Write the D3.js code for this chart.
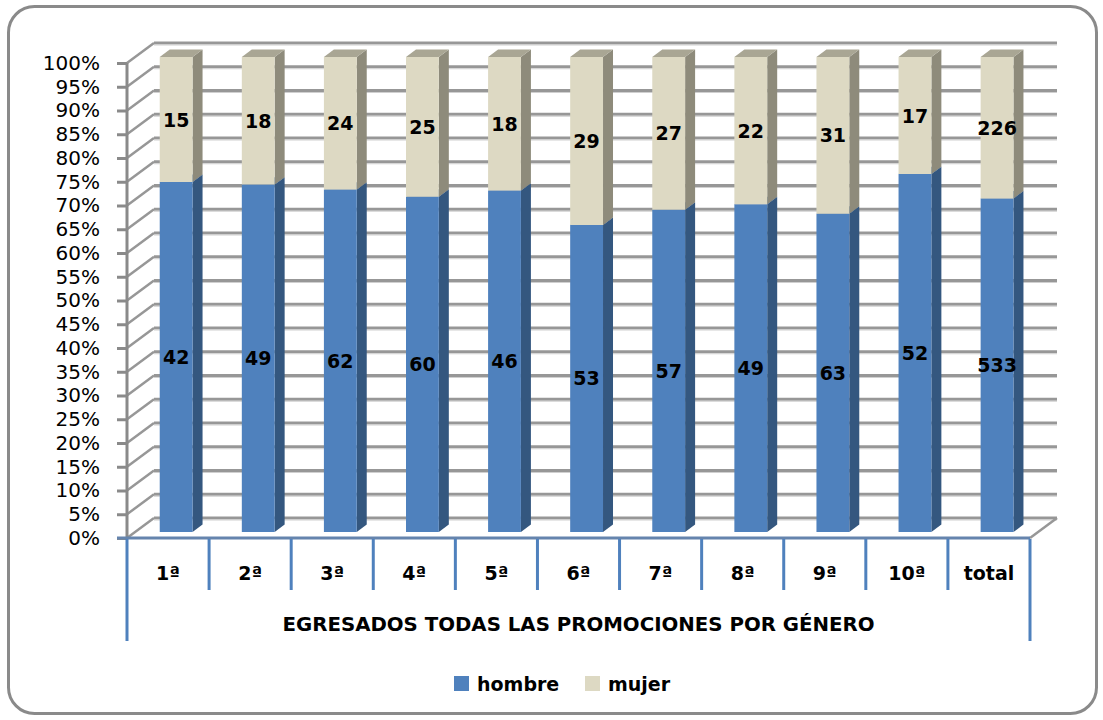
<!DOCTYPE html>
<html><head><meta charset="utf-8">
<script src="https://cdn.jsdelivr.net/npm/d3@7"></script>
<style>body{margin:0;background:#fff}svg{display:block}</style>
</head><body>
<script>
const categories = ["1ª","2ª","3ª","4ª","5ª","6ª","7ª","8ª","9ª","10ª","total"];
const hombre = [42,49,62,60,46,53,57,49,63,52,533];
const mujer  = [15,18,24,25,18,29,27,22,31,17,226];
const seriesNames = ["hombre","mujer"];
const yTicks = [0,5,10,15,20,25,30,35,40,45,50,55,60,65,70,75,80,85,90,95,100];
const axisTitle = "EGRESADOS TODAS LAS PROMOCIONES POR GÉNERO";

const W = 1103, H = 720;
const DX = 27, DY = -20;           // depth offset of back wall
const ZF = 0.3, ZB = 0.67;         // bar front/back depth
const colors = {
  hombre: {front:"#4f81bd", side:"#34577f", top:"#41699a"},
  mujer:  {front:"#ddd9c3", side:"#8e8b7b", top:"#a9a694"}
};

const svg = d3.select("body").append("svg").attr("width",W).attr("height",H);

// outer frame
svg.append("rect").attr("x",8.5).attr("y",6.5).attr("width",1088).attr("height",707)
  .attr("rx",26).attr("ry",26).attr("fill","#fff").attr("stroke","#8a8a8a").attr("stroke-width",3);

const x = d3.scaleBand().domain(categories).range([127,1030]);
const y = d3.scaleLinear().domain([0,100]).range([538,63]);
const bw = x.bandwidth();
const barW = bw*0.4, barOff = bw*0.3;

// back wall gridlines & side wall diagonals
const grid = svg.append("g");
yTicks.forEach(t=>{
  const yf = y(t), yb = y(t)+DY;
  grid.append("line").attr("x1",127).attr("y1",yf).attr("x2",127+DX).attr("y2",yb)
    .attr("stroke","#979797").attr("stroke-width",2.5);
  grid.append("line").attr("x1",127+DX).attr("y1",yb).attr("x2",1030+DX).attr("y2",yb)
    .attr("stroke","#979797").attr("stroke-width",3);
  grid.append("line").attr("x1",127+DX).attr("y1",yb+2).attr("x2",1030+DX).attr("y2",yb+2)
    .attr("stroke","#d0d0d0").attr("stroke-width",1);
});
// floor right edge
grid.append("line").attr("x1",1030).attr("y1",y(0)).attr("x2",1030+DX).attr("y2",y(0)+DY)
  .attr("stroke","#979797").attr("stroke-width",2.5);

// bars
const pct = categories.map((c,i)=>{
  const tot = hombre[i]+mujer[i];
  return {c, h:hombre[i], m:mujer[i], hp:hombre[i]/tot*100};
});
const bars = svg.append("g");
function pt(xv,yv,z){return [xv+z*DX, yv+z*DY];}
function poly(g,pts,fill){
  g.append("polygon").attr("points",pts.map(p=>p.join(",")).join(" ")).attr("fill",fill);
}
pct.forEach(d=>{
  const x0 = x(d.c)+barOff, x1 = x0+barW;
  const segs = [
    {name:"hombre", a:0, b:d.hp, v:d.h},
    {name:"mujer", a:d.hp, b:100, v:d.m}
  ];
  segs.forEach(s=>{
    const col = colors[s.name];
    const ya = y(s.a), yb = y(s.b);
    poly(bars,[pt(x1,ya,ZF),pt(x1,ya,ZB),pt(x1,yb,ZB),pt(x1,yb,ZF)],col.side);
    poly(bars,[pt(x0,ya,ZF),pt(x1,ya,ZF),pt(x1,yb,ZF),pt(x0,yb,ZF)],col.front);
    poly(bars,[pt(x0,yb,ZF),pt(x1,yb,ZF),pt(x1,yb,ZB),pt(x0,yb,ZB)],col.top);
  });
  segs.forEach(s=>{
    const [lx,ly] = pt((x0+x1)/2,(y(s.a)+y(s.b))/2,ZF);
    bars.append("text").attr("x",lx).attr("y",ly).attr("text-anchor","middle")
      .attr("dominant-baseline","central")
      .style("font-family","'DejaVu Sans'").style("font-weight","bold").style("font-size","19px").attr("fill","#000")
      .text(s.v);
  });
});

// y axis
const yAxis = svg.append("g").attr("transform","translate(127,0)")
  .call(d3.axisLeft(y).tickValues(yTicks).tickFormat(d=>d+"%").tickSize(10).tickPadding(17));
yAxis.selectAll("path,line").attr("stroke","#8a8a8a").attr("stroke-width",3);
yAxis.select("path").attr("d","M0,"+y(100)+"V"+y(0));
yAxis.selectAll("text").style("font-family","'DejaVu Sans'").style("font-size","20px").attr("fill","#000");

// floor front edge
svg.append("line").attr("x1",117).attr("y1",y(0)).attr("x2",1030).attr("y2",y(0))
  .attr("stroke","#6584ad").attr("stroke-width",3);

// table lines
const tbl = svg.append("g");
const bounds = categories.map(c=>x(c)).concat([1030]);
bounds.forEach((bx,i)=>{
  const outer = (i===0 || i===bounds.length-1);
  tbl.append("line").attr("x1",bx).attr("x2",bx).attr("y1",y(0)+1).attr("y2",outer?641:590)
    .attr("stroke","#4f81bd").attr("stroke-width",3);
});
categories.forEach(c=>{
  tbl.append("text").attr("x",x(c)+bw/2).attr("y",573).attr("text-anchor","middle")
    .attr("dominant-baseline","central")
    .style("font-family","'DejaVu Sans'").style("font-weight","bold").style("font-size","19px")
    .text(c);
});
tbl.append("text").attr("x",(127+1030)/2).attr("y",624).attr("text-anchor","middle")
  .attr("dominant-baseline","central")
  .style("font-family","'DejaVu Sans'").style("font-weight","bold").style("font-size","19px")
  .attr("textLength",592).attr("lengthAdjust","spacingAndGlyphs")
  .text(axisTitle);

// legend
const leg = svg.append("g");
const legX = [454,585];
seriesNames.forEach((n,i)=>{
  leg.append("rect").attr("x",legX[i]).attr("y",676).attr("width",15).attr("height",15)
    .attr("fill",colors[n].front);
  leg.append("text").attr("x",legX[i]+23).attr("y",684).attr("dominant-baseline","central")
    .style("font-family","'DejaVu Sans'").style("font-weight","bold").style("font-size","19px")
    .text(n);
});
</script>
</body></html>
